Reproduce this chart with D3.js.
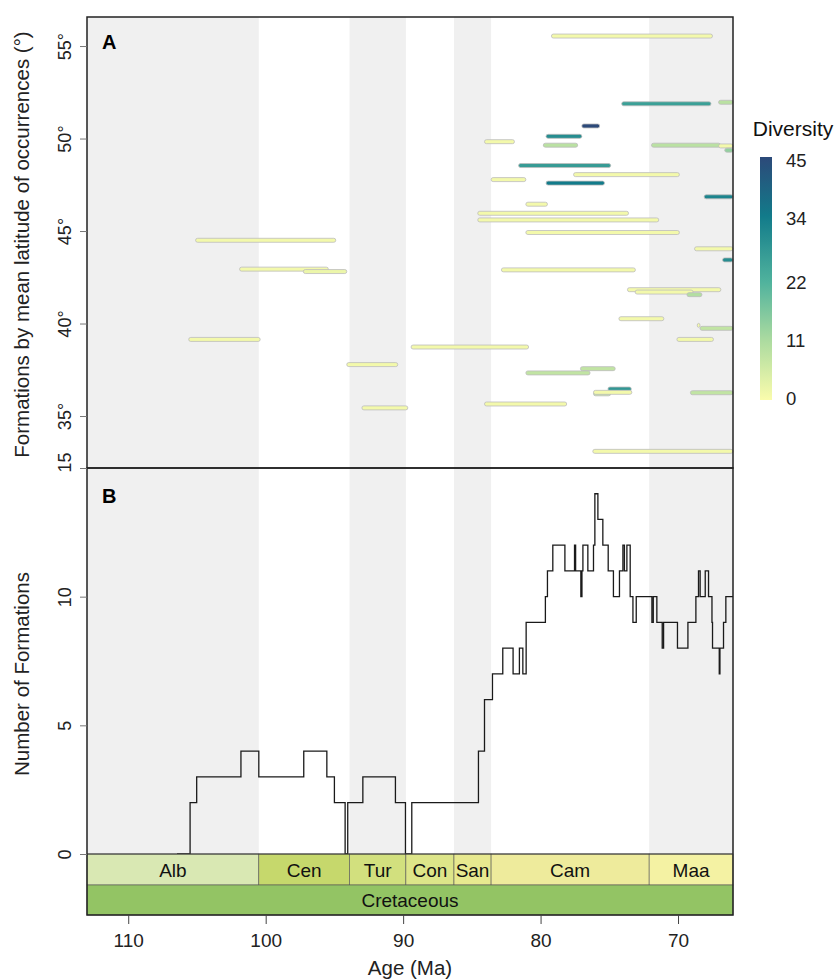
<!DOCTYPE html>
<html><head><meta charset="utf-8">
<script src="https://cdn.jsdelivr.net/npm/d3@7"></script>
<style>body{margin:0;background:#fff}svg{display:block;font-family:"Liberation Sans",Arial,sans-serif}</style>
</head><body><svg id="c" width="835" height="980"></svg>
<script>
// ---- Data ----
const stageNames = ["Alb","Cen","Tur","Con","San","Cam","Maa"];
const stageStart = [113.0,100.5,93.9,89.8,86.3,83.6,72.1];
const stageEnd   = [100.5,93.9,89.8,86.3,83.6,72.1,66.0];
const stageColors = ["#d9e8b3","#c6d86c","#d2e07e","#dde589","#e7e98f","#eeeb9c","#f4f2a3"];
const periodName = "Cretaceous";
const periodColor = "#93c464";

// Formations (panel A): oldest age, youngest age, mean latitude, diversity
const formStart = [105.1,101.9,97.26,105.6,89.42,94.1,93.0,79.21,74.1,67.05,77.0,79.6,84.08,79.8,71.93,67.05,66.6,81.6,77.6,83.6,79.6,68.1,81.07,84.57,84.57,81.07,68.8,66.76,82.85,73.68,73.12,69.35,74.3,68.6,68.4,70.08,77.1,81.07,76.15,75.1,76.15,69.1,84.08,76.2];
const formEnd   = [94.9,95.44,94.1,100.4,80.87,90.39,89.66,67.49,67.6,66.0,75.7,77.0,81.9,77.3,66.9,66.0,66.0,74.9,69.9,81.07,75.35,66.0,79.5,73.6,71.4,69.9,66.0,66.0,73.1,66.88,68.9,68.26,71.03,68.4,66.0,67.42,74.57,76.4,74.9,73.4,73.36,66.0,78.1,66.0];
const formLat   = [44.5,42.94,42.81,39.14,38.73,37.78,35.44,55.54,51.88,51.96,50.68,50.12,49.83,49.64,49.64,49.6,49.37,48.54,48.05,47.78,47.59,46.85,46.45,45.96,45.6,44.92,44.04,43.44,42.9,41.83,41.7,41.56,40.26,39.9,39.74,39.14,37.56,37.33,36.2,36.46,36.28,36.26,35.65,33.09];
const formDiv   = [1,1,2,1,1,1,1,1,26,9,45,30,1,9,9,1,14,27,1,1,34,32,1,1,1,1,1,30,1,1,1,10,1,1,8,1,8,8,8,28,1,8,1,1];

// Panel B: number of formations, step changes (age, count from that age onward)
const stepAge   = [106.45,105.5,105.02,101.8,100.5,97.23,95.55,95.0,94.22,94.03,92.93,90.56,89.83,89.37,84.52,84.08,83.5,82.75,82.0,81.54,81.29,81.05,79.65,79.59,79.5,79.11,78.23,77.53,77.45,77.07,76.99,76.92,76.56,76.15,76.05,75.83,75.47,75.08,74.7,74.26,74.01,73.9,73.72,73.48,73.28,73.04,71.9,71.8,71.54,71.15,71.05,70.04,69.28,68.7,68.51,68.39,68.02,67.78,67.53,67.49,67.0,66.95,66.69,66.52,66.0];
const stepCount = [0,2,3,4,3,4,3,2,0,2,3,2,0,2,4,6,7,8,7,8,7,9,10,10,11,12,11,12,11,10,11,12,11,12,14,13,12,11,10,11,12,11,12,10,9,10,9,10,9,8,9,8,9,10,11,10,11,10,9,8,7,8,9,10,10];

const xTicks = [110,100,90,80,70];
const latTicks = [35,40,45,50,55];
const countTicks = [0,5,10,15];
const legendTicks = [0,11,22,34,45];
const legendColors = ["#fafcac","#acdba0","#4fb29d","#127b8a","#2c4979"];

// ---- Layout ----
const L=87, R=733, aTop=17, aBot=468, bBot=854, sBot=885, pBot=915;
const FONT="Liberation Sans, Arial, sans-serif";
const svg = d3.select("#c");
const x = d3.scaleLinear().domain([113,66]).range([L,R]);
const yA = d3.scaleLinear().domain([32.19,56.57]).range([aBot,aTop]);
const yB = d3.scaleLinear().domain([0,15]).range([bBot,aBot]);
const color = d3.scaleLinear().domain(legendTicks).range(legendColors).interpolate(d3.interpolateRgb).clamp(true);

// background stripes
stageNames.forEach((s,i)=>{
  if(i%2===0){
    svg.append("rect").attr("x",x(stageStart[i])).attr("width",x(stageEnd[i])-x(stageStart[i]))
      .attr("y",aTop).attr("height",bBot-aTop).attr("fill","#f0f0f0");
  }
});

// panel A bars
const forms = formStart.map((s,i)=>({s, e:formEnd[i], lat:formLat[i], d:formDiv[i]}));
svg.append("g").selectAll("rect").data(forms).join("rect")
  .attr("x",d=>x(d.s)).attr("width",d=>Math.max(2,x(d.e)-x(d.s)))
  .attr("y",d=>yA(d.lat)-2).attr("height",4).attr("rx",2)
  .attr("fill",d=>color(d.d)).attr("stroke","#bdbdbd").attr("stroke-width",0.8);

// panel B step line
const pts = stepAge.map((a,i)=>[a,stepCount[i]]);
svg.append("path").datum(pts)
  .attr("d",d3.line().x(d=>x(d[0])).y(d=>yB(d[1])).curve(d3.curveStepAfter))
  .attr("fill","none").attr("stroke","#1a1a1a").attr("stroke-width",1.3);

// timescale
stageNames.forEach((s,i)=>{
  svg.append("rect").attr("x",x(stageStart[i])).attr("width",x(stageEnd[i])-x(stageStart[i]))
    .attr("y",bBot).attr("height",sBot-bBot).attr("fill",stageColors[i]).attr("stroke","#555").attr("stroke-width",0.6);
  svg.append("text").attr("x",(x(stageStart[i])+x(stageEnd[i]))/2).attr("y",(bBot+sBot)/2+7)
    .attr("text-anchor","middle").attr("font-size",19).attr("fill","#111").text(s);
});
svg.append("rect").attr("x",x(113)).attr("width",x(66)-x(113)).attr("y",sBot).attr("height",pBot-sBot)
  .attr("fill",periodColor).attr("stroke","#555").attr("stroke-width",0.6);
svg.append("text").attr("x",(x(113)+x(66))/2).attr("y",(sBot+pBot)/2+7).attr("text-anchor","middle")
  .attr("font-size",19).attr("fill","#111").text(periodName);

// frames
svg.append("rect").attr("x",L).attr("y",aTop).attr("width",R-L).attr("height",aBot-aTop)
  .attr("fill","none").attr("stroke","#222").attr("stroke-width",1.5);
svg.append("rect").attr("x",L).attr("y",aBot).attr("width",R-L).attr("height",pBot-aBot)
  .attr("fill","none").attr("stroke","#222").attr("stroke-width",1.5);
svg.append("line").attr("x1",L).attr("x2",R).attr("y1",bBot).attr("y2",bBot).attr("stroke","#333").attr("stroke-width",1);

// panel letters
svg.append("text").attr("x",102).attr("y",49).attr("font-size",20).attr("font-weight","bold").text("A");
svg.append("text").attr("x",102).attr("y",503).attr("font-size",20).attr("font-weight","bold").text("B");

// x axis
const gx = svg.append("g").attr("transform",`translate(0,${pBot})`)
  .call(d3.axisBottom(x).tickValues(xTicks).tickSize(9).tickSizeOuter(0).tickFormat(d3.format("d")));
gx.select(".domain").remove();
gx.selectAll("line").attr("stroke","#444");
gx.selectAll("text").attr("font-size",19).attr("fill","#222").attr("y",19).attr("dy","0.71em").attr("font-family",FONT);
svg.append("text").attr("x",(L+R)/2).attr("y",975).attr("text-anchor","middle").attr("font-size",20.5).attr("fill","#222").text("Age (Ma)");

// y axes
function leftAxis(scale, ticks, fmt){
  const g = svg.append("g").attr("transform",`translate(${L},0)`)
    .call(d3.axisLeft(scale).tickValues(ticks).tickSize(7).tickSizeOuter(0).tickFormat(fmt));
  g.select(".domain").remove();
  g.selectAll("line").attr("stroke","#777");
  g.selectAll("text").attr("font-size",18).attr("fill","#222").attr("font-family",FONT)
    .attr("text-anchor","middle").attr("x",0).attr("dy",0)
    .attr("transform","rotate(-90)").attr("y",-16);
  return g;
}
leftAxis(yA, latTicks, d=>d+"°");
const gB = leftAxis(yB, countTicks, d3.format("d"));
gB.selectAll(".tick").filter(d=>d===15).select("text").attr("x",6);

svg.append("text").attr("transform",`translate(29,${(aTop+aBot)/2+2}) rotate(-90)`).attr("text-anchor","middle")
  .attr("font-size",20.5).attr("fill","#222").text("Formations by mean latitude of occurrences (°)");
svg.append("text").attr("transform",`translate(29,${(aBot+bBot)/2+13}) rotate(-90)`).attr("text-anchor","middle")
  .attr("font-size",20.5).attr("fill","#222").text("Number of Formations");

// legend
const lgX=760, lgW=12, lgTop=157, lgBot=400;
const ly = d3.scaleLinear().domain([0,45]).range([lgBot-2,lgTop+3]);
const defs = svg.append("defs");
const grad = defs.append("linearGradient").attr("id","lg").attr("x1",0).attr("x2",0).attr("y1",1).attr("y2",0);
d3.range(0,46,1).forEach(v=>grad.append("stop").attr("offset",v/45).attr("stop-color",color(v)));
svg.append("rect").attr("x",lgX).attr("y",lgTop).attr("width",lgW).attr("height",lgBot-lgTop).attr("fill","url(#lg)");
svg.append("text").attr("x",793).attr("y",136).attr("text-anchor","middle").attr("font-size",21).attr("fill","#111").text("Diversity");
svg.append("g").selectAll("text").data(legendTicks).join("text")
  .attr("x",786).attr("y",d=>ly(d)+7).attr("font-size",18.5).attr("fill","#222").text(d=>d);
</script></body></html>
